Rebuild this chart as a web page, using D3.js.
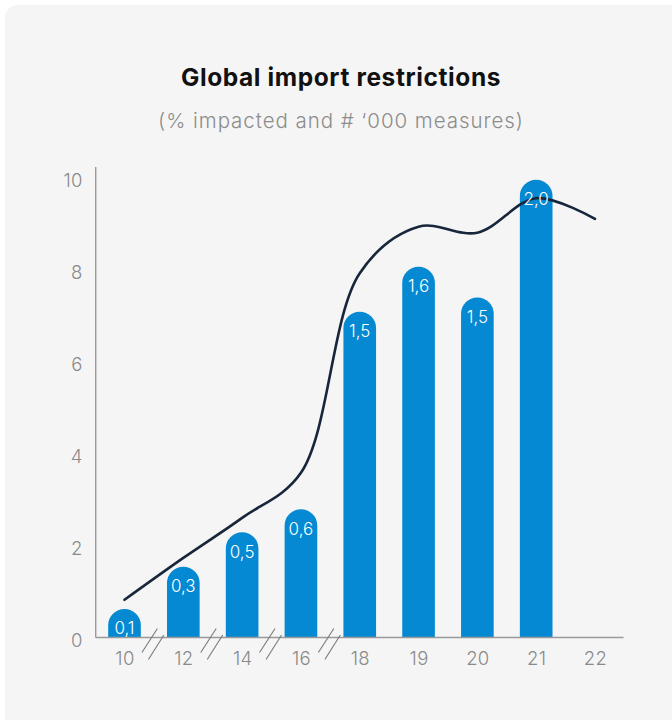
<!DOCTYPE html>
<html>
<head>
<meta charset="utf-8">
<script src="https://cdn.jsdelivr.net/npm/d3@7/dist/d3.min.js"></script>
<style>
  html, body { margin: 0; padding: 0; background: #ffffff; }
  svg { display: block; }
</style>
</head>
<body>
<svg id="chart" width="672" height="720"></svg>
<script>
// ---- data ----
const years = ["10", "12", "14", "16", "18", "19", "20", "21", "22"];
const pctImpacted = [0.62, 1.54, 2.29, 2.79, 7.08, 8.06, 7.39, 9.95, null];      // bars
const measuresK = ["0,1", "0,3", "0,5", "0,6", "1,5", "1,6", "1,5", "2,0", null]; // bar labels
const lineValues = [0.82, 1.73, 2.6, 3.58, 7.92, 8.93, 8.80, 9.55, 9.1];         // line
const yTicks = [0, 2, 4, 6, 8, 10];
const breaksAfter = ["10", "12", "14", "16"];
const titleText = "Global import restrictions";
const subtitleText = "(% impacted and # \u2018000 measures)";

// ---- layout ----
const svg = d3.select("#chart");
const W = 672, H = 720;
const plotLeft = 95.7, plotRight = 623.5, plotTop = 167, base = 637.5;

svg.append("rect").attr("x", 5).attr("y", 5).attr("width", W + 20).attr("height", H + 20)
  .attr("rx", 12).attr("fill", "#f5f5f5");

const x = d3.scalePoint().domain(years).range([124.5, 595]);
const y = d3.scaleLinear().domain([0, 10]).range([base, base - 460]);
const bw = x.step() * 0.555;

const fontFam = "Inter, 'DejaVu Sans', sans-serif";

// title
svg.append("text").attr("x", 341).attr("y", 85.5).attr("text-anchor", "middle")
  .attr("font-family", fontFam).attr("font-weight", 700).attr("font-size", 24.5)
  .attr("letter-spacing", 0.6).attr("fill", "#111").text(titleText);
svg.append("text").attr("x", 341).attr("y", 127.5).attr("text-anchor", "middle")
  .attr("font-family", fontFam).attr("font-weight", 300).attr("font-size", 20.5)
  .attr("letter-spacing", 0.95).attr("fill", "#8c8c8c").text(subtitleText);

// y axis
const yAxis = d3.axisLeft(y).tickValues(yTicks).tickSize(0).tickPadding(13).tickFormat(d3.format("d"));
const gy = svg.append("g").attr("transform", `translate(${plotLeft},0)`).call(yAxis);
gy.select(".domain").remove();
gy.selectAll("text").attr("font-family", fontFam).attr("font-weight", 300)
  .attr("font-size", 18.5).attr("letter-spacing", 0.3).attr("fill", "#8a8a8a").attr("dy", "0.5em");
svg.append("line").attr("x1", plotLeft).attr("x2", plotLeft).attr("y1", plotTop).attr("y2", base)
  .attr("stroke", "#9a9a9a").attr("stroke-width", 1.4);

// bars (rounded top)
function barPath(i) {
  const v = pctImpacted[i];
  const cx = x(years[i]);
  const r = bw / 2;
  const yt = y(v);
  const x0 = cx - r, x1 = cx + r;
  return `M${x0},${base} L${x0},${yt + r} A${r},${r} 0 0 1 ${x1},${yt + r} L${x1},${base} Z`;
}
const barIdx = years.map((d, i) => i).filter(i => pctImpacted[i] != null);
svg.append("g").selectAll("path").data(barIdx).join("path")
  .attr("d", i => barPath(i)).attr("fill", "#0589d2");

// x axis
svg.append("line").attr("x1", plotLeft).attr("x2", plotRight).attr("y1", base).attr("y2", base)
  .attr("stroke", "#9a9a9a").attr("stroke-width", 1.4);
const xAxis = d3.axisBottom(x).tickSize(0).tickPadding(14);
const gx = svg.append("g").attr("transform", `translate(0,${base})`).call(xAxis);
gx.select(".domain").remove();
gx.selectAll("text").attr("font-family", fontFam).attr("font-weight", 300)
  .attr("font-size", 18.5).attr("letter-spacing", 0.3).attr("fill", "#8a8a8a");

// axis breaks
const gb = svg.append("g").attr("stroke", "#7a7a7a").attr("stroke-width", 1.1);
breaksAfter.forEach(c => {
  const i = years.indexOf(c);
  const mx = (x(years[i]) + x(years[i + 1])) / 2;
  gb.append("line").attr("x1", mx - 12).attr("y1", base + 15).attr("x2", mx + 3.5).attr("y2", base - 9);
  gb.append("line").attr("x1", mx - 5.5).attr("y1", base + 22).attr("x2", mx + 10).attr("y2", base - 2.5);
});

// line
const line = d3.line().x((d, i) => x(years[i])).y(d => y(d)).curve(d3.curveCatmullRom.alpha(0.5));
svg.append("path").datum(lineValues).attr("d", line).attr("fill", "none")
  .attr("stroke", "#17263b").attr("stroke-width", 2.6).attr("stroke-linecap", "round");

// bar labels
svg.append("g").selectAll("text").data(barIdx).join("text")
  .attr("x", i => x(years[i])).attr("y", i => y(pctImpacted[i]) + 25.5)
  .attr("text-anchor", "middle").attr("font-family", fontFam).attr("font-weight", 300)
  .attr("font-size", 17).attr("fill", "#ffffff").text(i => measuresK[i]);
</script>
</body>
</html>
